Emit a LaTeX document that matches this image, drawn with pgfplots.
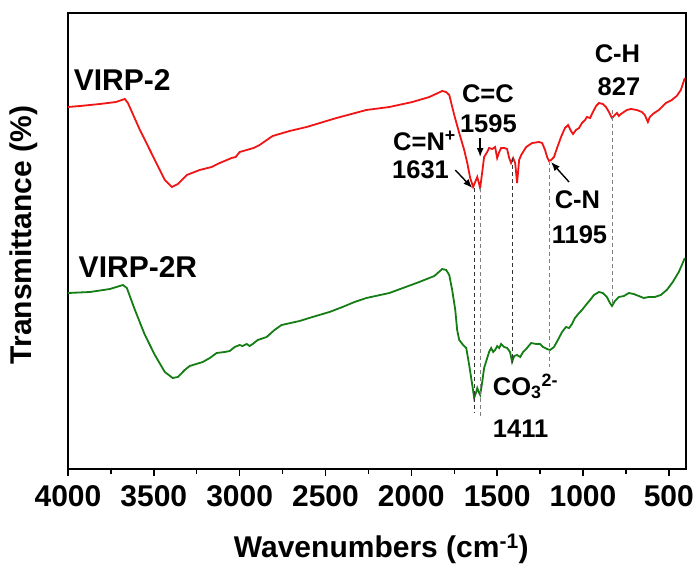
\documentclass[border=0pt]{standalone}
\usepackage{pgfplots}
\pgfplotsset{compat=1.18}
\usepackage{fontspec}
\setmainfont{Liberation Sans}
\usetikzlibrary{arrows.meta}
\definecolor{redc}{RGB}{240,20,20}
\definecolor{greenc}{RGB}{20,125,20}
\begin{document}
\begin{tikzpicture}
\begin{axis}[
  scale only axis, width=618bp, height=456bp,
  x dir=reverse, xmin=400, xmax=4000, ymin=0, ymax=456,
  xtick={500,1000,...,4000}, minor x tick num=1,
  ytick=\empty, xtick pos=left,
  tick align=outside,
  major tick length=7bp, minor tick length=5bp,
  line width=1.6bp,
  axis line style={line width=1.6bp},
  every tick/.style={black, line width=1.4bp},
  ticklabel style={font=\fontsize{30bp}{34bp}\selectfont\bfseries},
  xticklabel style={yshift=-5bp},
  /pgf/number format/assume math mode=true,
  /pgf/number format/1000 sep={},
  xlabel={Wavenumbers (cm\textsuperscript{-1})},
  ylabel={Transmittance (\%)},
  xlabel style={font=\fontsize{30bp}{36bp}\selectfont\bfseries, at={(axis description cs:0.507,-0.175)}, anchor=center},
  ylabel style={font=\fontsize{30bp}{36bp}\selectfont\bfseries, at={(axis description cs:-0.0712,0.513)}, anchor=center, rotate=0},
  clip=false,
]
\addplot[redc, line width=1.8bp] coordinates {
(4000,362)(3930,363)(3814,365)(3721,367)(3669,370)(3651,366)(3581,339)(3494,309)(3436,289)(3395,282)
(3360,285)(3308,294)(3233,299)(3163,302)(3116,306)(3047,311)(3023,312)(3000,317)(2959,319)(2919,321)
(2884,324)(2808,333)(2709,338)(2610,342)(2436,351)(2262,359)(2128,362)(1994,367)(1895,372)(1820,378)
(1797,377)(1779,374)(1750,354)(1721,336)(1692,319)(1674,306)(1657,291)(1640,282)(1628,287)(1616,292)
(1605,285)(1599,281)(1587,297)(1576,312)(1558,317)(1547,321)(1529,320)(1512,322)(1500,311)(1488,317)
(1477,321)(1459,321)(1442,320)(1430,311)(1419,306)(1407,311)(1395,306)(1384,286)(1372,309)(1360,314)
(1331,322)(1296,326)(1256,327)(1238,326)(1221,319)(1209,312)(1198,308)(1186,309)(1169,312)(1151,321)
(1128,332)(1105,341)(1087,344)(1070,338)(1058,335)(1041,339)(1023,341)(1006,346)(988,349)(977,352)
(959,351)(942,357)(924,363)(907,366)(884,365)(866,362)(849,357)(831,351)(814,354)(802,356)
(791,353)(779,355)(762,357)(744,359)(721,360)(686,359)(657,357)(640,354)(622,347)(611,352)
(593,355)(558,359)(517,366)(483,369)(454,373)(430,379)(407,391)
};
\addplot[greenc, line width=1.8bp] coordinates {
(4000,176)(3872,177)(3756,180)(3680,184)(3657,181)(3610,159)(3552,134)(3494,114)(3436,97)(3390,91)
(3360,92)(3320,99)(3291,103)(3215,107)(3174,111)(3134,116)(3087,117)(3058,118)(3029,122)(3000,124)
(2983,123)(2959,125)(2942,123)(2924,125)(2895,129)(2843,132)(2797,139)(2756,144)(2651,148)(2576,152)
(2477,157)(2401,162)(2331,167)(2262,171)(2128,176)(1954,187)(1866,193)(1820,200)(1797,199)(1779,194)
(1762,179)(1744,159)(1733,139)(1721,129)(1698,124)(1680,121)(1663,104)(1645,84)(1634,71)(1622,77)
(1616,81)(1605,76)(1599,74)(1587,87)(1576,101)(1558,111)(1547,117)(1535,121)(1523,117)(1512,119)
(1500,123)(1488,121)(1477,125)(1459,122)(1442,121)(1425,117)(1413,107)(1401,113)(1384,114)(1366,112)
(1349,117)(1331,120)(1302,126)(1273,125)(1250,125)(1233,122)(1209,120)(1192,119)(1169,122)(1140,131)
(1122,137)(1099,142)(1081,141)(1064,145)(1047,151)(1023,156)(1006,159)(983,164)(959,169)(936,174)
(907,177)(884,176)(861,172)(843,166)(831,163)(814,168)(791,172)(762,173)(733,176)(704,175)
(675,173)(646,171)(617,172)(582,172)(547,174)(512,179)(477,187)(442,197)(419,206)(407,211)
};
% dashed guide lines
\draw[black!80, dash pattern=on 4bp off 3bp, line width=0.9bp] (axis cs:1631,281) -- (axis cs:1631,56);
\draw[gray, dash pattern=on 4bp off 3bp, line width=0.9bp] (axis cs:1595,281) -- (axis cs:1595,51);
\draw[black!80, dash pattern=on 4bp off 3bp, line width=0.9bp] (axis cs:1411,311) -- (axis cs:1411,106);
\draw[gray, dash pattern=on 4bp off 3bp, line width=0.9bp] (axis cs:1195,308) -- (axis cs:1195,102);
\draw[gray, dash pattern=on 4bp off 3bp, line width=0.9bp] (axis cs:827,359) -- (axis cs:827,163);
% arrows
\draw[-{Latex[length=9bp,width=7bp]}, line width=1.4bp] (axis cs:1744,299) -- (axis cs:1645,281);
\draw[-{Latex[length=9bp,width=7bp]}, line width=1.4bp] (axis cs:1599,331) -- (axis cs:1599,312);
\draw[-{Latex[length=9bp,width=7bp]}, line width=1.4bp] (axis cs:1081,287) -- (axis cs:1186,307);
% labels
\tikzset{lab/.style={font=\fontsize{25.5bp}{30bp}\selectfont\bfseries, inner sep=0pt, anchor=base west},
         big/.style={font=\fontsize{30bp}{36bp}\selectfont\bfseries, inner sep=0pt, anchor=base west}}
\node[big] at (axis cs:3971,379) {VIRP-2};
\node[big] at (axis cs:3942,192) {VIRP-2R};
\node[lab] at (axis cs:2110,319) {C=N\textsuperscript{+}};
\node[lab] at (axis cs:2116,291) {1631};
\node[lab] at (axis cs:1709,367) {C=C};
\node[lab] at (axis cs:1721,337) {1595};
\node[lab] at (axis cs:1169,261) {C-N};
\node[lab] at (axis cs:1186,226) {1195};
\node[lab] at (axis cs:936,406) {C-H};
\node[lab] at (axis cs:919,374) {827};
\node[lab] at (axis cs:1529,74) {CO\textsubscript{3}\textsuperscript{2-}};
\node[lab] at (axis cs:1529,32) {1411};
\end{axis}
\path (current axis.south west) ++(-68bp,-95bp) rectangle ++(700bp,564bp);
\end{tikzpicture}
\end{document}
